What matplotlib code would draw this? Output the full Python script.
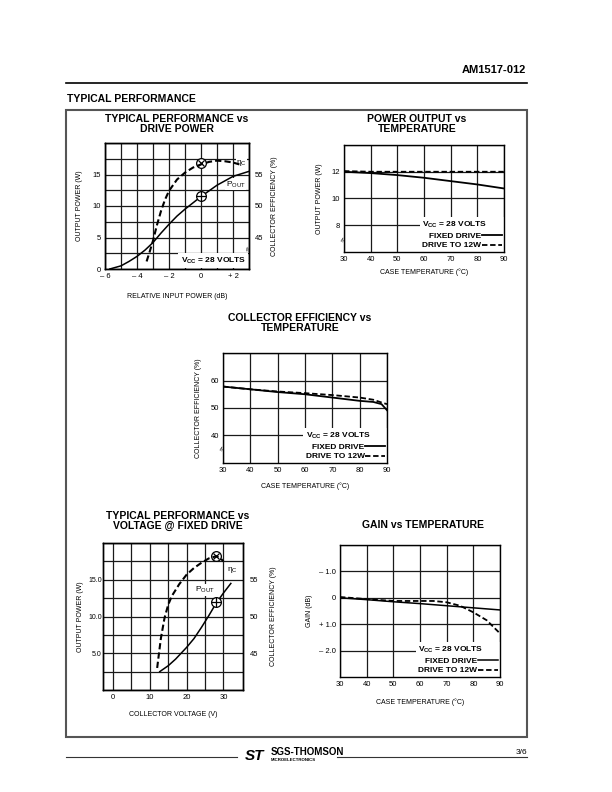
import matplotlib
matplotlib.use("Agg")
import matplotlib.pyplot as plt
from matplotlib.patches import Rectangle
from matplotlib.lines import Line2D

plt.rcParams['font.family'] = ['Liberation Sans', 'DejaVu Sans']
plt.rcParams['mathtext.fontset'] = 'custom'
plt.rcParams['mathtext.rm'] = 'Liberation Sans'
plt.rcParams['mathtext.bf'] = 'Liberation Sans:bold'

# ---- data ----
# typical performance vs drive power
drive_db = [-5.7, -5, -4.5, -4, -3.5, -3, -2.5, -2, -1.5, -1, -0.5, 0, 0.5, 1, 1.5, 2, 2.5, 3]
drive_pout = [0, 0.5, 1.2, 2.0, 3.0, 4.2, 5.7, 7.1, 8.4, 9.5, 10.5, 11.5, 12.4, 13.3, 14.0, 14.7, 15.1, 15.5]
eff_db = [-3.4, -3.2, -3.0, -2.75, -2.5, -2.25, -2.0, -1.5, -1.0, -0.5, 0, 0.5, 1.0, 1.5, 2.0, 2.4]
eff_pct = [41.2, 42.8, 44.5, 47.0, 49.2, 51.0, 52.4, 54.2, 55.3, 56.1, 56.6, 57.0, 57.2, 57.1, 56.9, 56.6]
drive_x_ticks = [-6, -4, -2, 0, 2]
drive_x_labels = ['\u2013 6', '\u2013 4', '\u2013 2', '0', '+ 2']

# power output vs temperature
temp = [30, 40, 50, 60, 70, 80, 90]
pout_fixed = [12.0, 11.9, 11.75, 11.55, 11.3, 11.05, 10.75]
pout_12w = [12.05, 12.0, 12.0, 12.0, 12.0, 12.0, 12.0]

# collector efficiency vs temperature
eff_temp = [30, 40, 50, 60, 70, 80, 85, 88, 90]
eff_fixed = [57.8, 56.8, 55.8, 55.0, 53.8, 52.6, 52.2, 51.4, 49.2]
eff_12w = [57.8, 56.8, 56.0, 55.4, 54.7, 53.8, 53.0, 52.0, 51.4]

# typical performance vs voltage @ fixed drive
vcc_pout_v = [12.7, 15, 17, 20, 22, 24, 26, 28, 30, 32]
vcc_pout = [2.5, 3.3, 4.2, 5.8, 7.0, 8.5, 10.1, 11.8, 13.2, 14.5]
vcc_eff_v = [12, 12.5, 13, 14, 15, 16, 17, 18, 20, 22, 24, 26, 28, 29, 30]
vcc_eff = [43.0, 45.0, 47.0, 49.8, 51.6, 52.8, 53.6, 54.4, 55.7, 56.6, 57.3, 57.9, 58.2, 58.0, 57.5]

# gain vs temperature
gain_fixed = [0.0, -0.07, -0.15, -0.22, -0.3, -0.38, -0.46]
gain_temp_12w = [30, 40, 50, 60, 65, 70, 75, 80, 85, 90]
gain_12w = [0.03, -0.05, -0.12, -0.12, -0.12, -0.17, -0.3, -0.55, -0.85, -1.35]
gain_ticks = [1, 0, -1, -2]
gain_labels = ['\u2013 1.0', '0', '+ 1.0', '\u2013 2.0']

W, H = 612, 792
GRID = '#1a1a1a'
TICK = 5.5
LAB = 5


def rect(x0, y0, x1, y1):
    # pixel box on the page -> figure fraction
    return [x0 / W, 1 - y1 / H, (x1 - x0) / W, (y1 - y0) / H]


def style(ax, xlim, ylim, xgrid, ygrid):
    ax.set_xlim(*xlim)
    ax.set_ylim(*ylim)
    ax.set_xticks(xgrid, minor=True)
    ax.set_yticks(ygrid, minor=True)
    ax.grid(which='both', color=GRID, lw=0.9)
    ax.set_axisbelow(True)
    ax.tick_params(which='both', length=0, labelsize=TICK, pad=3)
    for s in ax.spines.values():
        s.set_linewidth(1.0)
        s.set_zorder(6)


def temp_legend(ax, l1, l2):
    ax.legend([l1, l2], ['FIXED DRIVE', 'DRIVE TO 12W'], loc='lower right',
              markerfirst=False, title=r'V$_{\mathbf{CC}}$ = 28 VOLTS',
              alignment='left', frameon=True, fancybox=False, framealpha=1,
              edgecolor='none', facecolor='white',
              prop={'weight': 'bold', 'size': 6},
              title_fontproperties={'weight': 'bold', 'size': 6},
              handlelength=2.3, handletextpad=0.1, borderpad=0.3,
              labelspacing=0.25, borderaxespad=0.0)


def title(x, y, s):
    fig.text(x / W, 1 - y / H, s, ha='center', va='center', fontsize=7.5,
             fontweight='bold', linespacing=1.0)


def brk(ax, x, y, rot=60):
    ax.text(x, y, '\u2248', transform=ax.get_yaxis_transform(), ha='center',
            va='center', fontsize=6, rotation=rot, zorder=7)


fig = plt.figure(figsize=(W / 100, H / 100), dpi=100)

# page furniture
fig.text(526 / W, 1 - 70 / H, 'AM1517-012', ha='right', va='center',
         fontsize=8, fontweight='bold')
fig.add_artist(Line2D([66 / W, 527 / W], [1 - 83 / H] * 2, color='black', lw=1.2))
fig.text(67 / W, 1 - 99 / H, 'TYPICAL PERFORMANCE', ha='left', va='center',
         fontsize=7.5, fontweight='bold')
fig.add_artist(Rectangle((66 / W, 1 - 737 / H), 461 / W, 627 / H,
                         fill=False, ec='#555555', lw=1.5))
fig.add_artist(Line2D([66 / W, 237 / W], [1 - 757 / H] * 2, color='#333333', lw=0.8))
fig.add_artist(Line2D([337 / W, 527 / W], [1 - 757 / H] * 2, color='#333333', lw=0.8))
fig.text(255 / W, 1 - 756 / H, 'ST', ha='center', va='center', fontsize=11,
         fontweight='bold', style='italic')
fig.text(271 / W, 1 - 752 / H, 'SGS-THOMSON', ha='left', va='center',
         fontsize=7, fontweight='bold')
fig.text(271 / W, 1 - 760 / H, 'MICROELECTRONICS', ha='left', va='center',
         fontsize=3.2, fontweight='bold')
fig.text(527 / W, 1 - 752 / H, '3/6', ha='right', va='center', fontsize=6)

# 1. typical performance vs drive power
title(177, 124, 'TYPICAL PERFORMANCE vs\nDRIVE POWER')
ax1 = fig.add_axes(rect(105, 143, 249, 269))
style(ax1, (-6, 3), (0, 20), range(-6, 4), [2.5 * i for i in range(9)])
ax1.set_xticks(drive_x_ticks, drive_x_labels)
ax1.set_yticks([0, 5, 10, 15])
ax1.plot(drive_db, drive_pout, color='black', lw=1.1, zorder=4)
ax1.set_xlabel('RELATIVE INPUT POWER (dB)', fontsize=LAB, labelpad=9)
ax1.set_ylabel('OUTPUT POWER (W)', fontsize=LAB, labelpad=7)
ax1.text(2.8, 0.5, r'V$_{\mathbf{CC}}$ = 28 VOLTS', ha='right', va='bottom',
         fontsize=6, fontweight='bold', zorder=5,
         bbox=dict(fc='white', ec='none', pad=1.5))
ax1.text(1.55, 12.6, 'P$_{\\mathrm{OUT}}$', fontsize=6, ha='left', va='bottom',
         bbox=dict(fc='white', ec='none', pad=0.5))
ax1r = ax1.twinx()
ax1r.set_ylim(40, 60)
ax1r.set_yticks([45, 50, 55])
ax1r.tick_params(length=0, labelsize=TICK, pad=4)
ax1r.plot(eff_db, eff_pct, color='black', lw=1.5, ls=(0, (3, 1.5)), zorder=4)
ax1r.plot([0], [56.8], 'o', ms=7, mfc='white', mec='black', mew=0.9)
ax1r.plot([0], [56.8], 'x', ms=5, color='black', mew=0.9)
ax1r.plot([0], [51.6], 'o', ms=7, mfc='white', mec='black', mew=0.9)
ax1r.plot([0], [51.6], '+', ms=7, color='black', mew=0.9)
ax1r.text(2.2, 56.8, '\u03b7$_{\\mathrm{C}}$', fontsize=6, ha='left', va='center',
          bbox=dict(fc='white', ec='none', pad=0.3))
ax1r.set_ylabel('COLLECTOR EFFICIENCY (%)', fontsize=LAB, labelpad=6)
brk(ax1r, 1.0, 43.3, rot=80)
for s in ax1r.spines.values():
    s.set_linewidth(1.0)

# 2. power output vs temperature
title(417, 124, 'POWER OUTPUT vs\nTEMPERATURE')
ax2 = fig.add_axes(rect(344, 145, 504, 252))
style(ax2, (30, 90), (6, 14), range(30, 91, 10), [8, 10, 12, 14])
ax2.set_xticks(temp)
ax2.set_yticks([8, 10, 12])
f2, = ax2.plot(temp, pout_fixed, color='black', lw=1.3, zorder=4)
d2, = ax2.plot(temp, pout_12w, color='black', lw=1.3, ls=(0, (3, 1.5)), zorder=4)
ax2.set_xlabel('CASE TEMPERATURE (\u00b0C)', fontsize=LAB, labelpad=4)
ax2.set_ylabel('OUTPUT POWER (W)', fontsize=LAB, labelpad=6)
temp_legend(ax2, f2, d2)
brk(ax2, 0.0, 6.9)

# 3. collector efficiency vs temperature
title(300, 323, 'COLLECTOR EFFICIENCY vs\nTEMPERATURE')
ax3 = fig.add_axes(rect(223, 353, 387, 463))
style(ax3, (30, 90), (30, 70), range(30, 91, 10), [40, 50, 60, 70])
ax3.set_xticks(temp)
ax3.set_yticks([40, 50, 60])
f3, = ax3.plot(eff_temp, eff_fixed, color='black', lw=1.3, zorder=4)
d3, = ax3.plot(eff_temp, eff_12w, color='black', lw=1.3, ls=(0, (3, 1.5)), zorder=4)
ax3.set_xlabel('CASE TEMPERATURE (\u00b0C)', fontsize=LAB, labelpad=6)
ax3.set_ylabel('COLLECTOR EFFICIENCY (%)', fontsize=LAB, labelpad=6)
temp_legend(ax3, f3, d3)
brk(ax3, 0.0, 35.2)

# 4. typical performance vs voltage @ fixed drive
title(178, 521, 'TYPICAL PERFORMANCE vs\nVOLTAGE @ FIXED DRIVE')
ax4 = fig.add_axes(rect(103, 543, 243, 690))
style(ax4, (-2.7, 35.3), (0, 20), range(0, 31, 5), [2.5 * i for i in range(9)])
ax4.set_xticks([0, 10, 20, 30])
ax4.set_yticks([5, 10, 15], ['5.0', '10.0', '15.0'])
ax4.tick_params(axis='y', labelsize=5, pad=1)
ax4.plot(vcc_pout_v, vcc_pout, color='black', lw=1.1, zorder=4)
ax4.set_xlabel('COLLECTOR VOLTAGE (V)', fontsize=LAB, labelpad=7)
ax4.set_ylabel('OUTPUT POWER (W)', fontsize=LAB, labelpad=3)
ax4.text(22.3, 12.9, 'P$_{\\mathrm{OUT}}$', fontsize=6, ha='left', va='bottom',
         bbox=dict(fc='white', ec='none', pad=0.5))
ax4r = ax4.twinx()
ax4r.set_ylim(40, 60)
ax4r.set_yticks([45, 50, 55])
ax4r.tick_params(length=0, labelsize=TICK, pad=5)
ax4r.plot(vcc_eff_v, vcc_eff, color='black', lw=1.5, ls=(0, (3, 1.5)), zorder=4)
ax4r.plot([28], [58.2], 'o', ms=7, mfc='white', mec='black', mew=0.9)
ax4r.plot([28], [58.2], 'x', ms=5, color='black', mew=0.9)
ax4r.plot([28], [52.0], 'o', ms=7, mfc='white', mec='black', mew=0.9)
ax4r.plot([28], [52.0], '+', ms=7, color='black', mew=0.9)
ax4r.text(31.0, 56.3, '\u03b7$_{\\mathrm{C}}$', fontsize=6, ha='left', va='center',
          bbox=dict(fc='white', ec='none', pad=0.3))
ax4r.set_ylabel('COLLECTOR EFFICIENCY (%)', fontsize=LAB, labelpad=8)
for s in ax4r.spines.values():
    s.set_linewidth(1.0)

# 5. gain vs temperature
title(423, 525, 'GAIN vs TEMPERATURE')
ax5 = fig.add_axes(rect(340, 545, 500, 677))
style(ax5, (30, 90), (-3, 2), range(30, 91, 10), [-2, -1, 0, 1, 2])
ax5.set_xticks(temp)
ax5.set_yticks(gain_ticks, gain_labels)
f5, = ax5.plot(temp, gain_fixed, color='black', lw=1.1, zorder=4)
d5, = ax5.plot(gain_temp_12w, gain_12w, color='black', lw=1.3, ls=(0, (3, 1.5)), zorder=4)
ax5.set_xlabel('CASE TEMPERATURE (\u00b0C)', fontsize=LAB, labelpad=7)
ax5.set_ylabel('GAIN (dB)', fontsize=LAB, labelpad=4)
temp_legend(ax5, f5, d5)

fig.savefig('out.png', dpi=100)
